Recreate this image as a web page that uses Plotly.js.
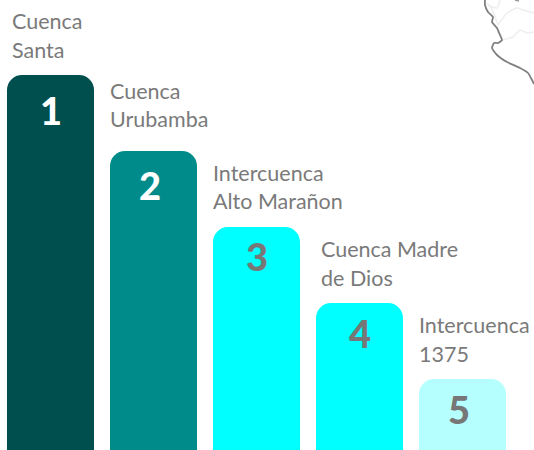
<!DOCTYPE html>
<html><head><meta charset="utf-8">
<script src="https://cdn.plot.ly/plotly-3.0.1.min.js"></script>
<style>html,body{margin:0;padding:0;background:#fff}#c{width:534px;height:450px}</style>
</head><body><div id="c"></div>
<script>
const categories = ["Cuenca Santa","Cuenca Urubamba","Intercuenca Alto Marañon","Cuenca Madre de Dios","Intercuenca 1375"];
const labelLine1 = ["Cuenca","Cuenca","Intercuenca","Cuenca Madre","Intercuenca"];
const labelLine2 = ["Santa","Urubamba","Alto Marañon","de Dios","1375"];
const values = [5,4,3,2,1];
const ranks = ["1","2","3","4","5"];
const barColors = ["#004f4f","#008b8b","#00ffff","#00ffff","#b5ffff"];
const rankColors = ["#ffffff","#ffffff","#777777","#777777","#777777"];
const labelDx = [-40.5,-45.5,-45.5,-40.5,-45.5];
const line1Dy = [54,60,54,54,54];
const line2Dy = [25,32,26,25,25];
const rankDx = [0,-4,0,0,-4];
const rankDy = [-35,-34,-29,-30,-30];
const coastX = [485,485,488,493,492,497,500,502,498,494,492,497,507,520,528,532,534];
const coastY = [0,5,12,17,22,28,35,40,43,43,48,55,62,68,73,80,84];
const border1X = [498,507,517,523,534];
const border1Y = [25,13,8,10,13];
const border2X = [502,513,520,527,534];
const border2Y = [40,37,30,33,32];
const border3X = [487,492,498];
const border3Y = [3,9,25];
const border4X = [488,497,500];
const border4Y = [5,8,0];
const specX = [515,519];
const specY = [0,1];
const annotations = [];
categories.forEach((c,i)=>{
  const base = {x:c,y:values[i],xref:"x",yref:"y",showarrow:false,yanchor:"middle",font:{family:"Lato",size:21.5,color:"#7a7a7a"}};
  annotations.push({...base,text:labelLine1[i],xanchor:"left",xshift:labelDx[i],yshift:line1Dy[i]});
  annotations.push({...base,text:labelLine2[i],xanchor:"left",xshift:labelDx[i],yshift:line2Dy[i]});
  annotations.push({...base,text:ranks[i],xanchor:"center",xshift:rankDx[i],yshift:rankDy[i],
    font:{family:"Lato",size:38,weight:900,color:rankColors[i]}});
});
const mapLine = (x,y,color,w)=>({type:"scatter",mode:"lines",x,y,xaxis:"x2",yaxis:"y2",hoverinfo:"skip",
  line:{color,width:w,shape:"spline",smoothing:0.5}});
Plotly.newPlot("c",[
  {type:"bar",x:categories,y:values,width:0.845,marker:{color:barColors,cornerradius:15,line:{width:0}},hoverinfo:"skip"},
  mapLine(border1X,border1Y,"#eeeeee",1.5),
  mapLine(border2X,border2Y,"#eeeeee",1.5),
  mapLine(border3X,border3Y,"#eeeeee",1.5),
  mapLine(border4X,border4Y,"#eeeeee",1.5),
  mapLine(specX,specY,"#999999",1.5),
  mapLine(coastX,coastY,"#808080",1.8)
],{
  width:534,height:450,margin:{l:0,r:0,t:0,b:0},showlegend:false,
  paper_bgcolor:"#fff",plot_bgcolor:"#fff",
  xaxis:{type:"category",range:[-0.4903,4.694],visible:false,fixedrange:true},
  yaxis:{range:[0.0658,5.987],visible:false,fixedrange:true},
  xaxis2:{range:[0,534],overlaying:"x",visible:false,fixedrange:true},
  yaxis2:{range:[450,0],overlaying:"y",visible:false,fixedrange:true},
  annotations
},{displayModeBar:false,staticPlot:true});
</script></body></html>
